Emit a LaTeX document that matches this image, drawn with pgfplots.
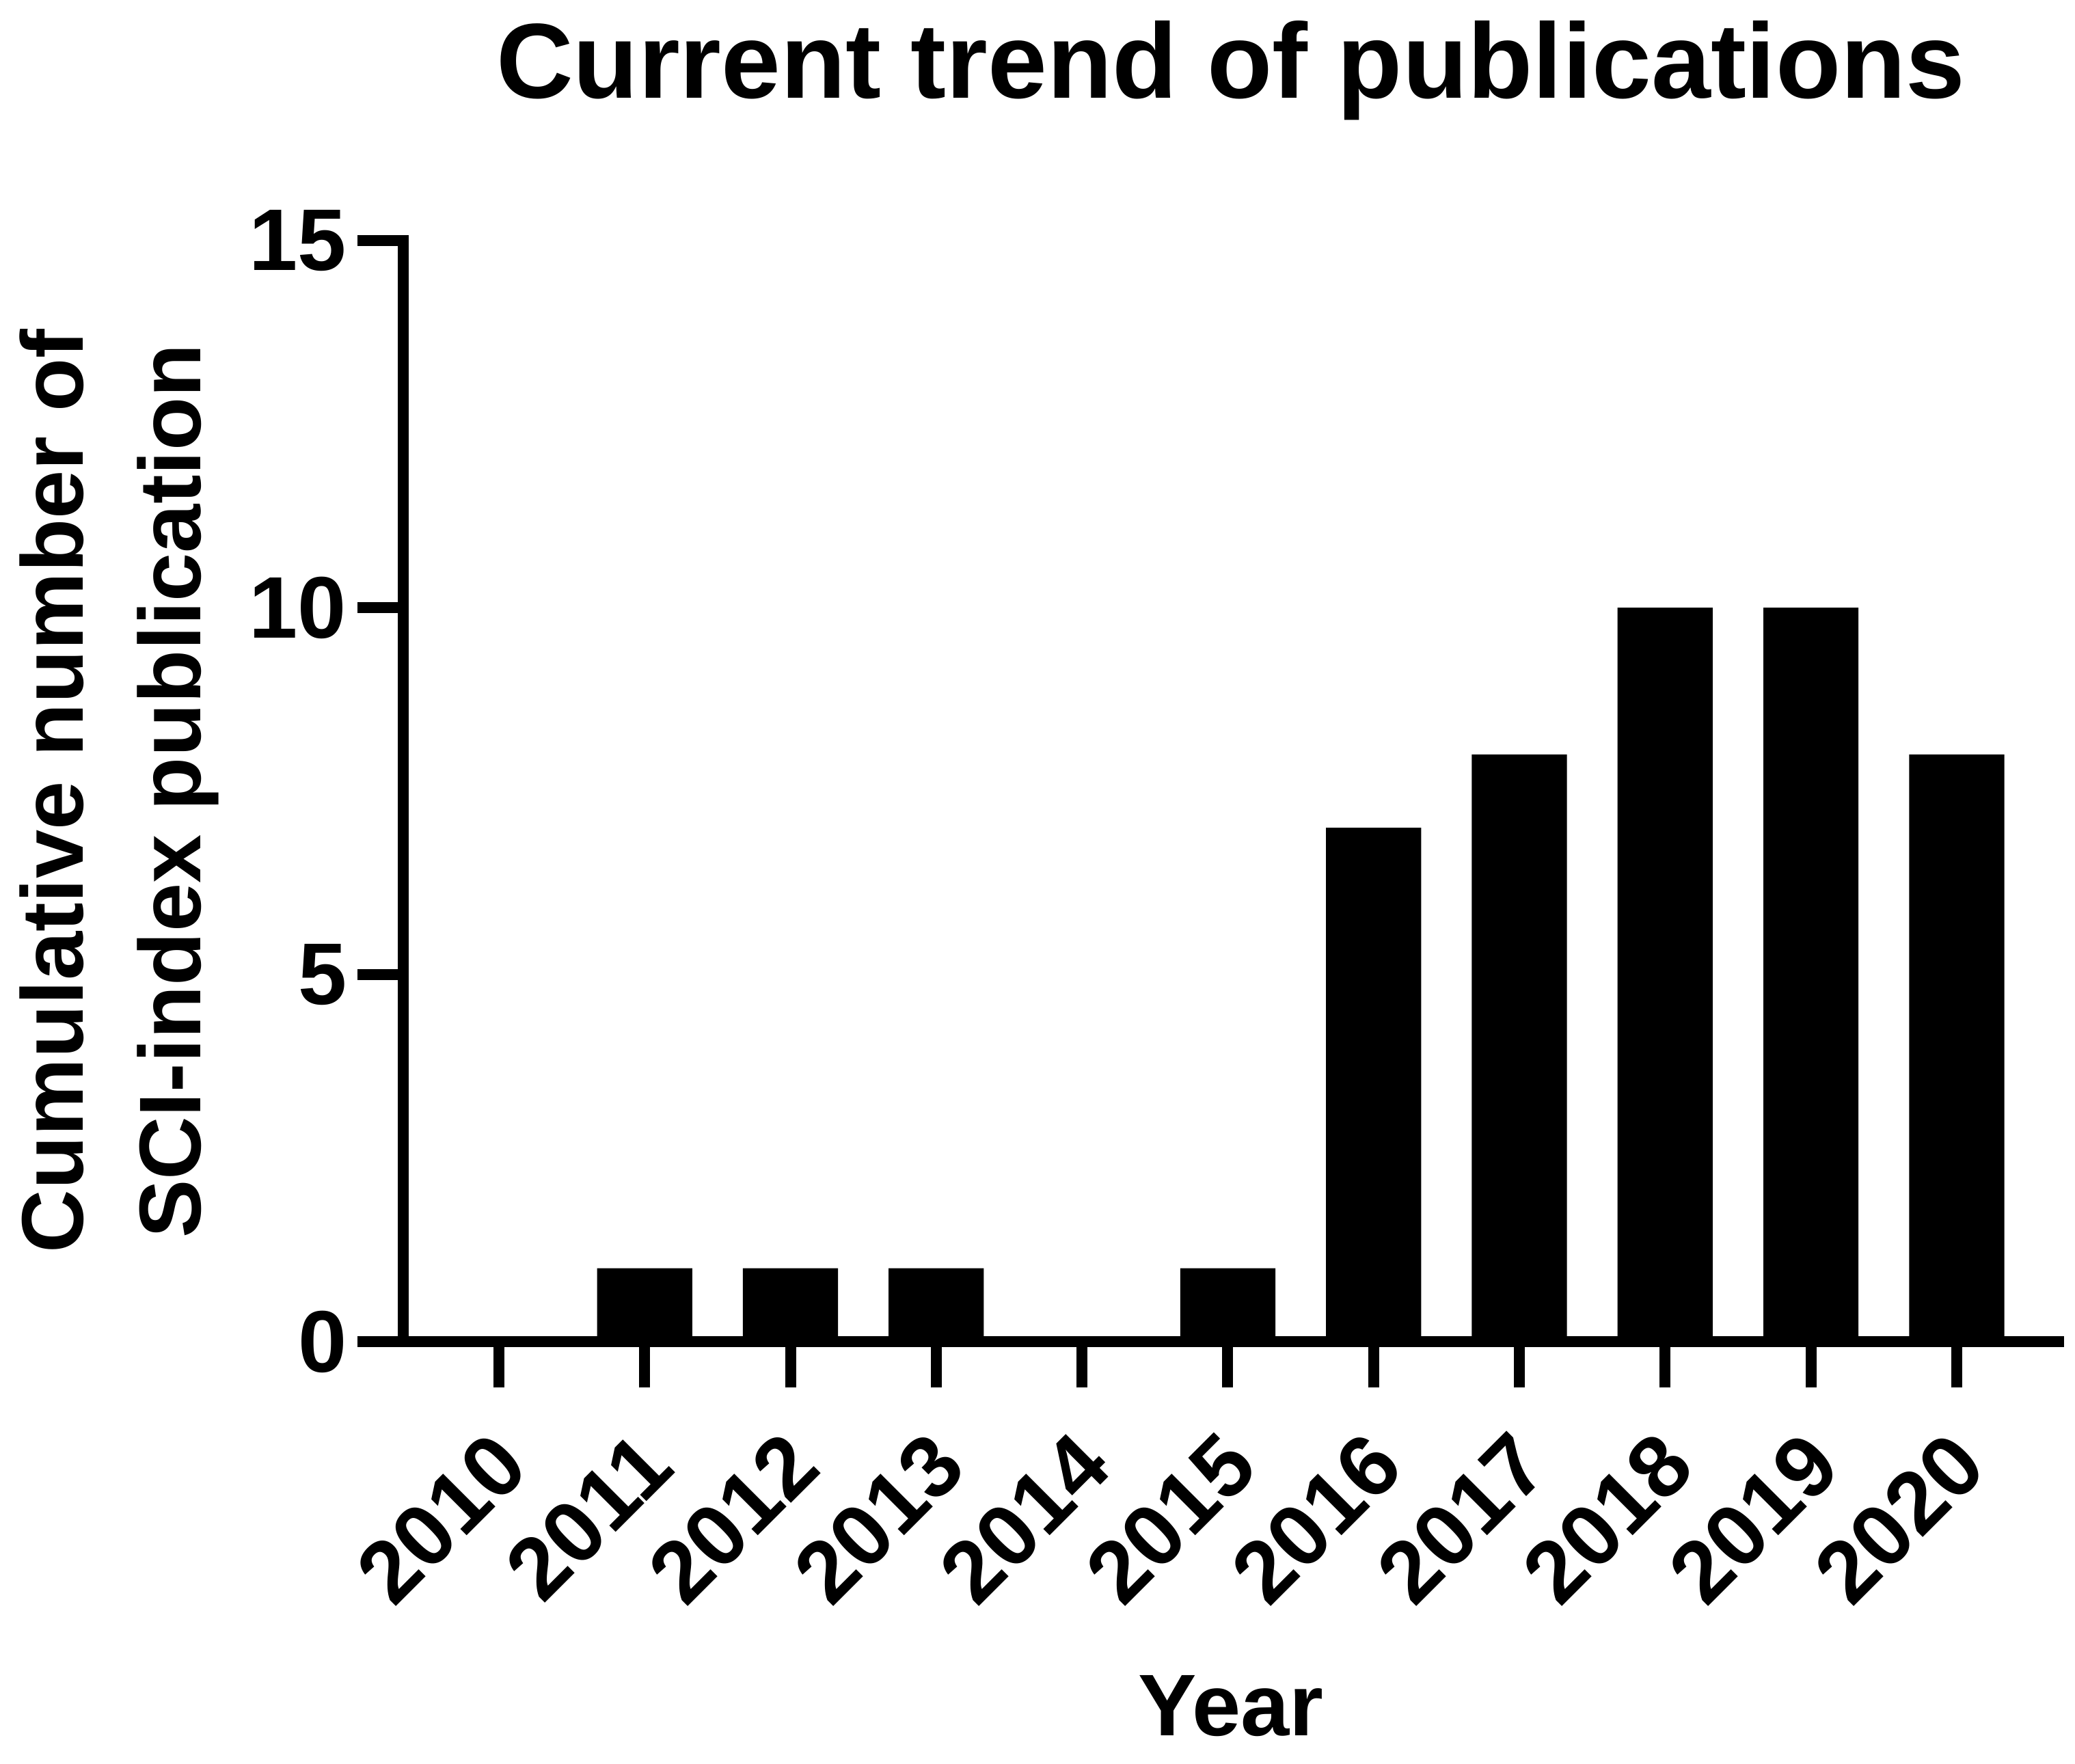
\documentclass[border=0pt]{standalone}
\usepackage{fontspec}
\setmainfont{Liberation Sans}
\usepackage{pgfplots}
\pgfplotsset{compat=1.18}
\begin{document}
\begin{tikzpicture}
\begin{axis}[
  at={(0pt,0pt)}, anchor=south west,
  scale only axis,
  width=302.75pt, height=201.375pt,
  xmin=-0.656, xmax=10.699,
  ymin=0, ymax=15,
  axis lines*=left,
  axis line style={line width=2pt, line cap=rect},
  tick style={line width=2pt, black},
  major tick length=8.4pt,
  tick align=outside,
  xtick={0,1,2,3,4,5,6,7,8,9,10},
  xticklabels={2010,2011,2012,2013,2014,2015,2016,2017,2018,2019,2020},
  ytick={0,5,10,15},
  /pgf/number format/assume math mode=true,
  tick label style={font=\bfseries\fontsize{16}{19}\selectfont},
  xticklabel style={rotate=45, anchor=east, inner sep=0pt, xshift=1.59pt, yshift=-1.59pt},
  xticklabel shift=11.2pt,
  yticklabel style={anchor=east, inner sep=0pt},
  yticklabel shift=1.75pt,
  title={Current trend of publications},
  title style={at={(axis description cs:0.5,1.0998)}, anchor=base, yshift=0pt, inner sep=0pt, font=\bfseries\fontsize{19.5}{23}\selectfont},
  xlabel={Year},
  xlabel style={at={(axis description cs:0.5,-0.358)}, anchor=base, inner sep=0pt, font=\bfseries\fontsize{16}{19}\selectfont},
  ylabel={Cumulative number of\\SCI-index publication},
  ylabel style={at={(axis description cs:-0.111,0.5)}, anchor=south, rotate=0, inner sep=0pt, align=center, font=\bfseries\fontsize{16}{21.5}\selectfont},
  clip=false,
]
\addplot[ybar, bar width=17.4pt, fill=black, draw=none] coordinates {
  (0,0) (1,1) (2,1) (3,1) (4,0) (5,1) (6,7) (7,8) (8,10) (9,10) (10,8)
};
\end{axis}
\pgfresetboundingbox
\useasboundingbox (-73.75pt,-77.125pt) rectangle (305.75pt,245.375pt);
\end{tikzpicture}
\end{document}
